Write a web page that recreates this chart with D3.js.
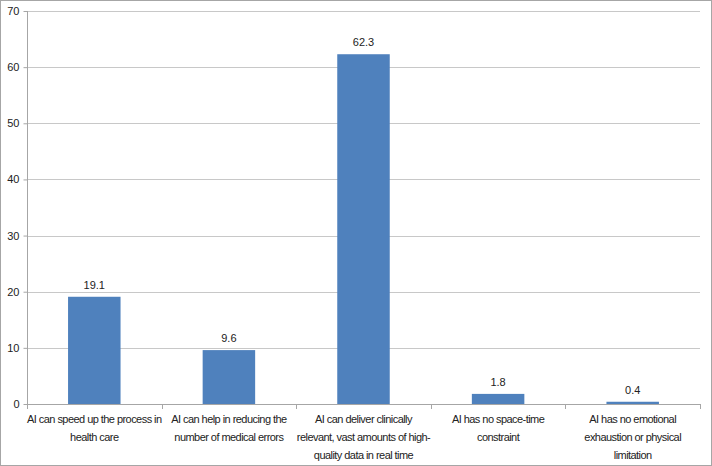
<!DOCTYPE html>
<html><head><meta charset="utf-8">
<script src="https://cdn.jsdelivr.net/npm/d3@7"></script>
<style>
html,body{margin:0;padding:0;background:#fff;}
svg{display:block;font-family:"Liberation Sans",Arial,sans-serif;}
</style></head>
<body>
<svg id="c" width="712" height="466"></svg>
<script>
const categories = [
  "AI can speed up the process in health care",
  "AI can help in reducing the number of medical errors",
  "AI can deliver clinically relevant, vast amounts of high-quality data in real time",
  "AI has no space-time constraint",
  "AI has no emotional exhaustion or physical limitation"
];
const labelLines = [
  ["AI can speed up the process in", "health care"],
  ["AI can help in reducing the", "number of medical errors"],
  ["AI can deliver clinically", "relevant, vast amounts of high-", "quality data in real time"],
  ["AI has no space-time", "constraint"],
  ["AI has no emotional", "exhaustion or physical", "limitation"]
];
const values = [19.1, 9.6, 62.3, 1.8, 0.4];
const yTicks = [0, 10, 20, 30, 40, 50, 60, 70];

const svg = d3.select("#c");
const W = 712, H = 466;
const m = {left: 27, right: 12, top: 11, bottom: 62};

svg.append("rect").attr("x", 0.5).attr("y", 0.5).attr("width", W - 1).attr("height", H - 1)
  .attr("fill", "#fff").attr("stroke", "#a6a6a6");

const x = d3.scaleBand().domain(categories).range([m.left, W - m.right]).paddingInner(0.61).paddingOuter(0.305);
const y = d3.scaleLinear().domain([0, 70]).range([H - m.bottom, m.top]);

// gridlines
svg.append("g").selectAll("line").data(yTicks.filter(d => d > 0)).join("line")
  .attr("x1", m.left).attr("x2", W - m.right)
  .attr("y1", d => Math.round(y(d)) + 0.5).attr("y2", d => Math.round(y(d)) + 0.5)
  .attr("stroke", "#c8c8c8").attr("stroke-width", 1);

// y axis
const ya = svg.append("g").attr("transform", `translate(${m.left + 0.5},0)`)
  .call(d3.axisLeft(y).tickValues(yTicks).tickSize(4).tickPadding(4).tickFormat(d3.format("d")));
ya.select(".domain").attr("stroke", "#a6a6a6").attr("d", `M0,${y(70)}V${y(0)}`);
ya.selectAll(".tick line").attr("stroke", "#a6a6a6");
ya.selectAll(".tick text").attr("fill", "#222").attr("font-size", 11).attr("font-family", "Liberation Sans, Arial, sans-serif");

// bars
svg.append("g").selectAll("rect").data(values).join("rect")
  .attr("x", (d, i) => x(categories[i]))
  .attr("width", x.bandwidth())
  .attr("y", d => y(d))
  .attr("height", d => y(0) - y(d))
  .attr("fill", "#4f81bd");

// x axis baseline and ticks
const bounds = d3.range(categories.length + 1).map(i => m.left + i * ((W - m.right - m.left) / categories.length));
svg.append("line").attr("x1", m.left).attr("x2", W - m.right)
  .attr("y1", Math.round(y(0)) + 0.5).attr("y2", Math.round(y(0)) + 0.5).attr("stroke", "#a6a6a6");
svg.append("g").selectAll("line").data(bounds).join("line")
  .attr("x1", d => Math.round(d) + 0.5).attr("x2", d => Math.round(d) + 0.5)
  .attr("y1", Math.round(y(0))).attr("y2", Math.round(y(0)) + 5).attr("stroke", "#a6a6a6");

// value labels
svg.append("g").selectAll("text").data(values).join("text")
  .attr("x", (d, i) => x(categories[i]) + x.bandwidth() / 2)
  .attr("y", d => y(d) - 8)
  .attr("text-anchor", "middle").attr("font-size", 11).attr("fill", "#222")
  .text(d => d.toFixed(1));

// category labels
const lg = svg.append("g");
labelLines.forEach((lines, i) => {
  const cx = x(categories[i]) + x.bandwidth() / 2;
  const t = lg.append("text").attr("text-anchor", "middle").attr("font-size", 11)
    .attr("letter-spacing", "-0.55px").attr("fill", "#222");
  lines.forEach((ln, j) => {
    t.append("tspan").attr("x", cx).attr("y", y(0) + 19 + j * 18).text(ln);
  });
});
</script>
</body></html>
